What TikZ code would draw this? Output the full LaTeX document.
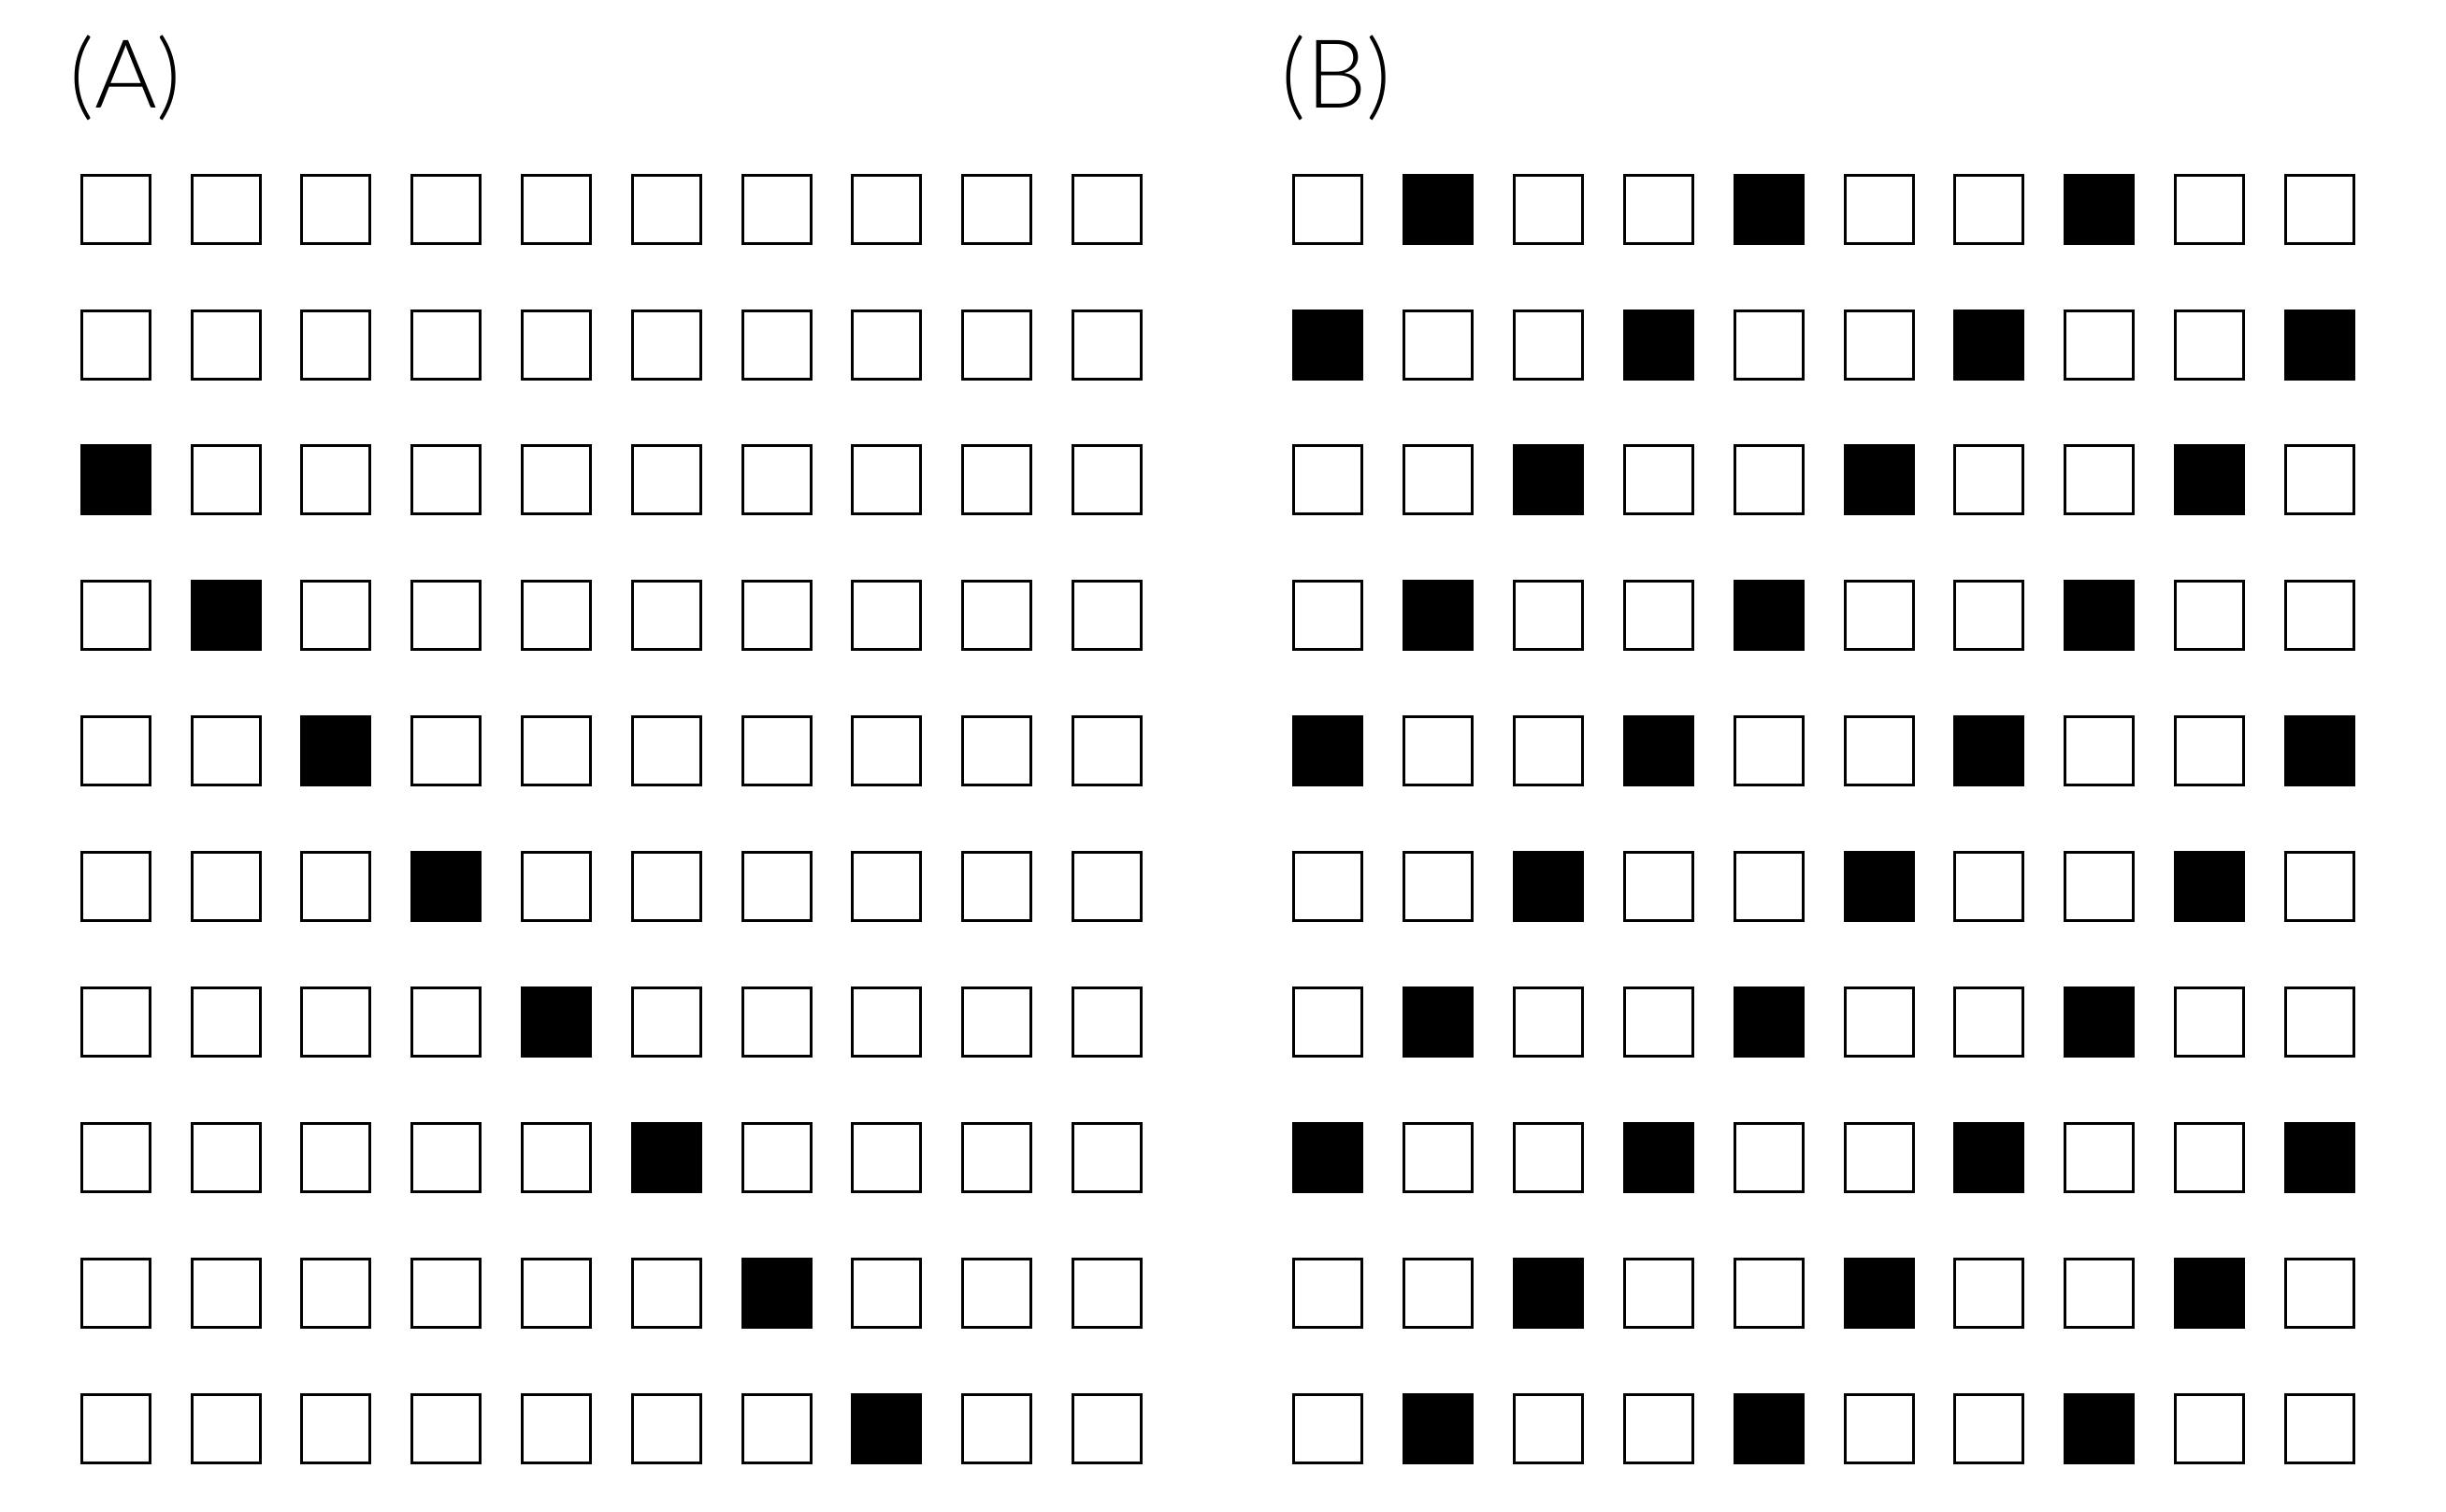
\documentclass[tikz,border=0pt]{standalone}
\usepackage{fontspec}
\IfFontExistsTF{Lato Light}{\setmainfont{Lato Light}}{\setmainfont{Lato}}
\tikzset{
	cell/.style={draw=black,line width=0.03cm,minimum size=0.73cm,inner sep=0pt},
	onecell/.style={cell,fill=black},
	panellabel/.style={anchor=base west,inner sep=0pt,font=\fontsize{29}{32}\selectfont}
}
\begin{document}
\begin{tikzpicture}
	\useasboundingbox (0,0) rectangle (26.16,16.16);
	% labels
	\node[panellabel] (labA) at (0.74,15.00) {(A)};
	\node[panellabel] (labB) at (13.70,15.00) {(B)};
	% panel A: one filled cell per row, shifted diagonally
	\foreach \r in {0,...,9} {
		\foreach \c in {0,...,9} {
			\pgfmathtruncatemacro{\d}{\r-\c}
			\ifnum\d=2
				\node[onecell] (A-\r-\c) at ({1.237+1.178*\c},{13.923-1.449*\r}) {};
			\else
				\node[cell] (A-\r-\c) at ({1.237+1.178*\c},{13.923-1.449*\r}) {};
			\fi
		}
	}
	% panel B: filled where (r+c) mod 3 = 1
	\foreach \r in {0,...,9} {
		\foreach \c in {0,...,9} {
			\pgfmathtruncatemacro{\m}{mod(\r+\c,3)}
			\ifnum\m=1
				\node[onecell] (B-\r-\c) at ({14.20+1.179*\c},{13.923-1.449*\r}) {};
			\else
				\node[cell] (B-\r-\c) at ({14.20+1.179*\c},{13.923-1.449*\r}) {};
			\fi
		}
	}
\end{tikzpicture}
\end{document}
